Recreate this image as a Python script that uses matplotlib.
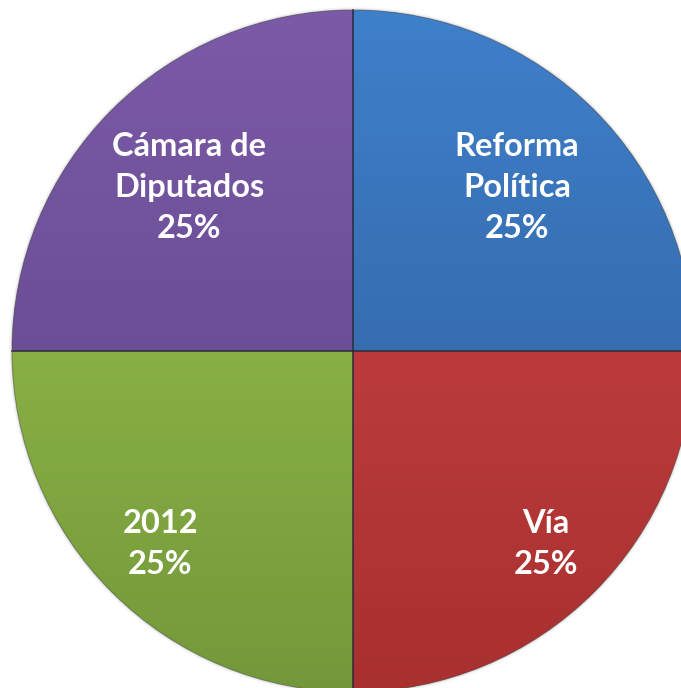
import matplotlib.pyplot as plt
import matplotlib.colors as mcolors
import numpy as np

labels = ["Reforma\nPolítica", "Vía", "2012", "Cámara de\nDiputados"]
shares = [25, 25, 25, 25]
top_colors = ["#3f80cb", "#d0474a", "#9cc84e", "#7b5aa8"]
bottom_colors = ["#2c5a94", "#a8302f", "#73983a", "#5c4384"]
label_dist = [0.68, 0.80, 0.80, 0.68]

W, H = 681, 688
cx, cy, r = 353, H - 351, 341

fig = plt.figure(figsize=(W / 100, H / 100), dpi=100)
ax = fig.add_axes([0, 0, 1, 1])

# soft shadow ring round the pie
for i, a in enumerate([0.05, 0.08, 0.12]):
    ax.add_patch(plt.Circle((cx, cy), r + 3 - i, color="#808080", alpha=a, lw=0))

wedges, _ = ax.pie(shares, startangle=90, counterclock=False, center=(cx, cy),
                   radius=r, colors=top_colors, frame=True,
                   wedgeprops=dict(edgecolor="none", linewidth=0))
ax.set_xlim(0, W)
ax.set_ylim(0, H)
ax.set_aspect("equal")
ax.axis("off")

# vertical gradient fill clipped to each wedge
grad = np.linspace(0, 1, 256).reshape(-1, 1)
for w, c1, c2 in zip(wedges, top_colors, bottom_colors):
    cmap = mcolors.LinearSegmentedColormap.from_list("g", [c2, c1])
    im = ax.imshow(grad, cmap=cmap, origin="lower", aspect="auto",
                   extent=(cx - r, cx + r, cy - r, cy + r), zorder=2)
    im.set_clip_path(w)

# dark seams between slices
for w in wedges:
    for t in (np.deg2rad(w.theta1), np.deg2rad(w.theta2)):
        ax.plot([cx, cx + r * np.cos(t)], [cy, cy + r * np.sin(t)],
                color="#2a2a3a", lw=1.2, alpha=0.6, zorder=3)
ax.add_patch(plt.Circle((cx, cy), r, fill=False, ec="#505050", lw=0.8,
                        alpha=0.5, zorder=3))

for w, lab, s, d in zip(wedges, labels, shares, label_dist):
    mid = np.deg2rad((w.theta1 + w.theta2) / 2)
    ax.text(cx + d * r * np.cos(mid), cy + d * r * np.sin(mid), f"{lab}\n{s}%",
            ha="center", va="center", color="white", fontsize=23.5,
            fontweight="bold", family="Lato", linespacing=1.5, zorder=4)

fig.savefig("out.png", dpi=100)
